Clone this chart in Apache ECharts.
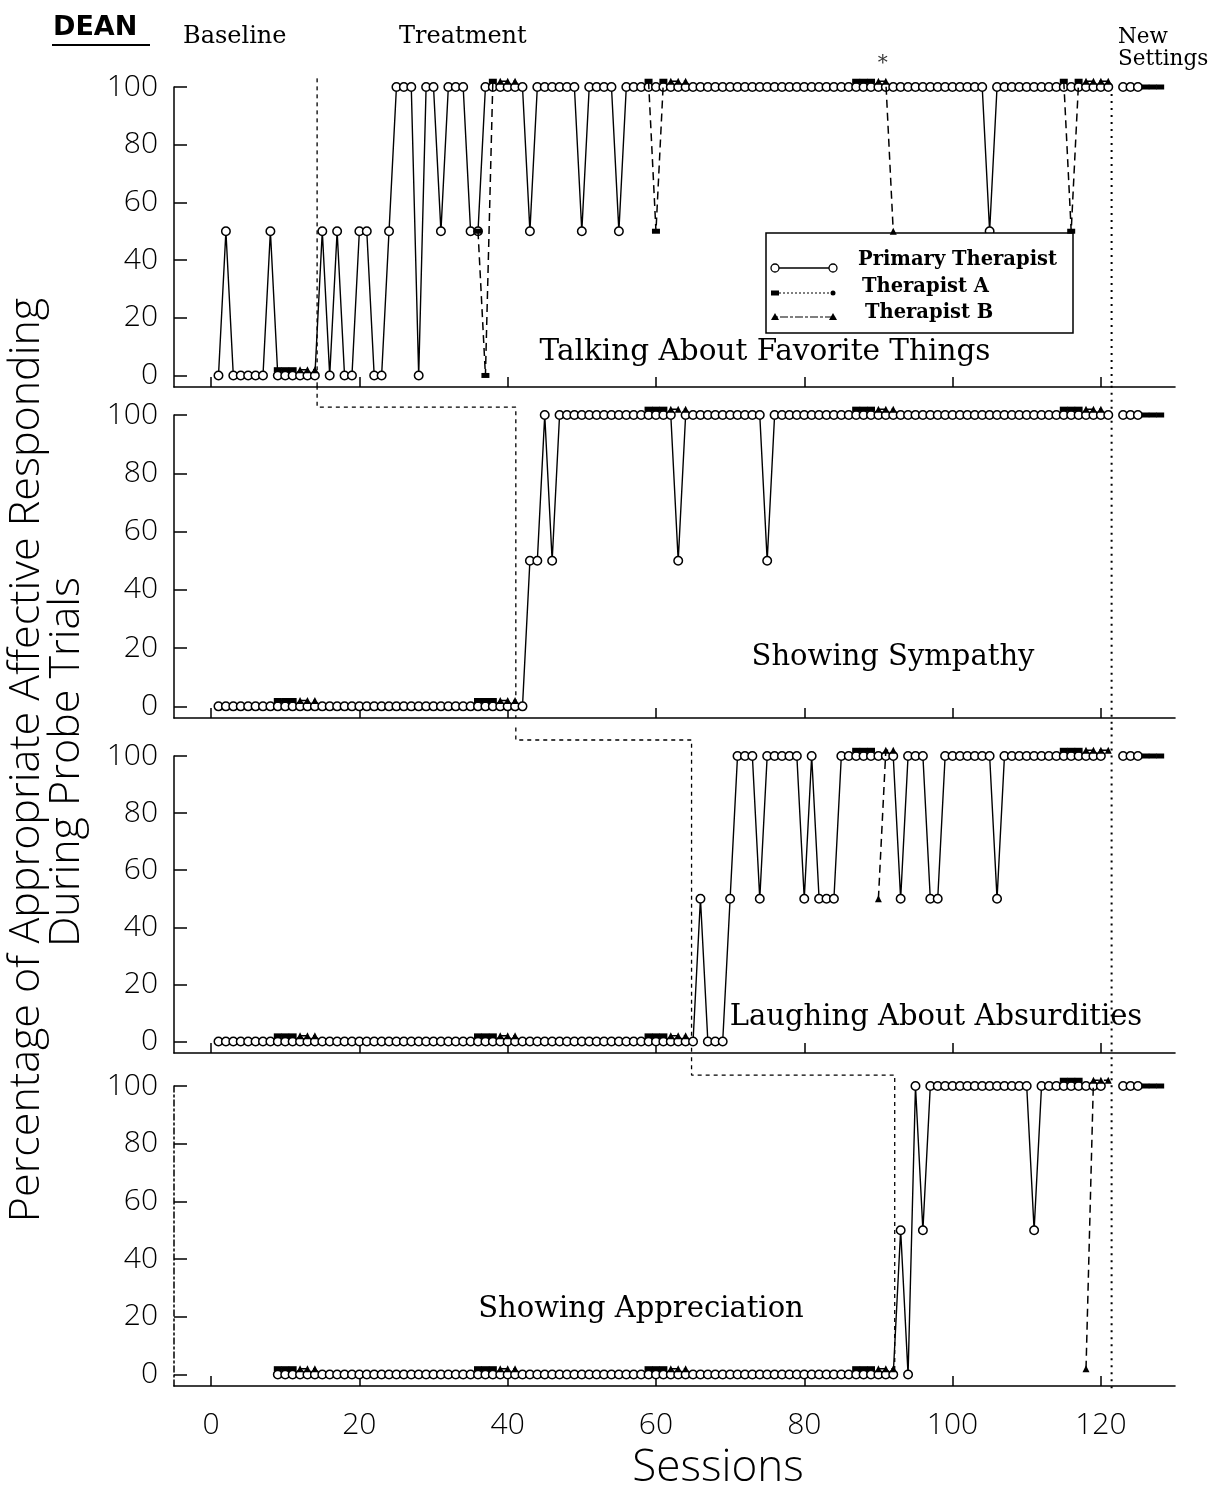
<!DOCTYPE html>
<html>
<head>
<meta charset="utf-8">
<script src="https://cdn.jsdelivr.net/npm/echarts@6/dist/echarts.min.js"></script>
<style>
html,body{margin:0;padding:0;background:#fff;}
#chart{width:1210px;height:1486px;}
</style>
</head>
<body>
<div id="chart"></div>
<script>
// ---------------- DATA ----------------
const SESSIONS = [
  1,2,3,4,5,6,7,8,9,10, 11,12,13,14,15,16,17,18,19,20,
  21,22,23,24,25,26,27,28,29,30, 31,32,33,34,35,36,37,38,39,40,
  41,42,43,44,45,46,47,48,49,50, 51,52,53,54,55,56,57,58,59,60,
  61,62,63,64,65,66,67,68,69,70, 71,72,73,74,75,76,77,78,79,80,
  81,82,83,84,85,86,87,88,89,90, 91,92,93,94,95,96,97,98,99,100,
  101,102,103,104,105,106,107,108,109,110, 111,112,113,114,115,116,117,118,119,120,
  121,122,123,124,125,126,127,128
];
const X_TICKS = [0, 20, 40, 60, 80, 100, 120];
const Y_TICKS = [0, 20, 40, 60, 80, 100];
const PANEL_TITLES = ['Talking About Favorite Things', 'Showing Sympathy', 'Laughing About Absurdities', 'Showing Appreciation'];

// Primary therapist, one value per session (null = no probe)
const P1_PRIMARY = [
  0,50,0,0,0,0,0,50,0,0,  0,0,0,0,50,0,50,0,0,50,
  50,0,0,50,100,100,100,0,100,100,  50,100,100,100,50,50,100,100,100,100,
  100,100,50,100,100,100,100,100,100,50,  100,100,100,100,50,100,100,100,100,100,
  100,100,100,100,100,100,100,100,100,100,  100,100,100,100,100,100,100,100,100,100,
  100,100,100,100,100,100,100,100,100,100,  100,100,100,100,100,100,100,100,100,100,
  100,100,100,100,50,100,100,100,100,100,  100,100,100,100,100,100,100,100,100,100,
  100,null,100,100,100,null,null,null
];
const P2_PRIMARY = [
  0,0,0,0,0,0,0,0,0,0,  0,0,0,0,0,0,0,0,0,0,
  0,0,0,0,0,0,0,0,0,0,  0,0,0,0,0,0,0,0,0,0,
  0,0,50,50,100,50,100,100,100,100,  100,100,100,100,100,100,100,100,100,100,
  100,100,50,100,100,100,100,100,100,100,  100,100,100,100,50,100,100,100,100,100,
  100,100,100,100,100,100,100,100,100,100,  100,100,100,100,100,100,100,100,100,100,
  100,100,100,100,100,100,100,100,100,100,  100,100,100,100,100,100,100,100,100,100,
  100,null,100,100,100,null,null,null
];
const P3_PRIMARY = [
  0,0,0,0,0,0,0,0,0,0,  0,0,0,0,0,0,0,0,0,0,
  0,0,0,0,0,0,0,0,0,0,  0,0,0,0,0,0,0,0,0,0,
  0,0,0,0,0,0,0,0,0,0,  0,0,0,0,0,0,0,0,0,0,
  0,0,0,0,0,50,0,0,0,50,  100,100,100,50,100,100,100,100,100,50,
  100,50,50,50,100,100,100,100,100,100,  100,100,50,100,100,100,50,50,100,100,
  100,100,100,100,100,50,100,100,100,100,  100,100,100,100,100,100,100,100,100,100,
  null,null,100,100,100,null,null,null
];
const P4_PRIMARY = [
  null,null,null,null,null,null,null,null,0,0,  0,0,0,0,0,0,0,0,0,0,
  0,0,0,0,0,0,0,0,0,0,  0,0,0,0,0,0,0,0,0,0,
  0,0,0,0,0,0,0,0,0,0,  0,0,0,0,0,0,0,0,0,0,
  0,0,0,0,0,0,0,0,0,0,  0,0,0,0,0,0,0,0,0,0,
  0,0,0,0,0,0,0,0,0,0,  0,0,50,0,100,50,100,100,100,100,
  100,100,100,100,100,100,100,100,100,100,  50,100,100,100,100,100,100,100,100,100,
  null,null,100,100,100,null,null,null
];

// Reliability probes: [session, value] runs (each run is drawn as its own path)
const P1_THER_A = [
  [[9,2],[10,2],[11,2]],
  [[36,50],[37,0],[38,102]],
  [[59,102],[60,50],[61,102]],
  [[87,102],[88,102],[89,102]],
  [[115,102],[116,50],[117,102]],
  [[126,100],[127,100],[128,100]]
];
const P1_THER_B = [
  [[12,2],[13,2],[14,2]],
  [[39,102],[40,102],[41,102]],
  [[62,102],[63,102],[64,102]],
  [[90,102],[91,102],[92,50]],
  [[118,102],[119,102],[120,102],[121,102]]
];
const P2_THER_A = [
  [[9,2],[10,2],[11,2]],
  [[36,2],[37,2],[38,2]],
  [[59,102],[60,102],[61,102]],
  [[87,102],[88,102],[89,102]],
  [[115,102],[116,102],[117,102]],
  [[126,100],[127,100],[128,100]]
];
const P2_THER_B = [
  [[12,2],[13,2],[14,2]],
  [[39,2],[40,2],[41,2]],
  [[62,102],[63,102],[64,102]],
  [[90,102],[91,102],[92,102]],
  [[118,102],[119,102],[120,102]]
];
const P3_THER_A = [
  [[9,2],[10,2],[11,2]],
  [[36,2],[37,2],[38,2]],
  [[59,2],[60,2],[61,2]],
  [[87,102],[88,102],[89,102]],
  [[115,102],[116,102],[117,102]],
  [[126,100],[127,100],[128,100]]
];
const P3_THER_B = [
  [[12,2],[13,2],[14,2]],
  [[39,2],[40,2],[41,2]],
  [[62,2],[63,2],[64,2]],
  [[90,50],[91,102],[92,102]],
  [[118,102],[119,102],[120,102],[121,102]]
];
const P4_THER_A = [
  [[9,2],[10,2],[11,2]],
  [[36,2],[37,2],[38,2]],
  [[59,2],[60,2],[61,2]],
  [[87,2],[88,2],[89,2]],
  [[115,102],[116,102],[117,102]],
  [[126,100],[127,100],[128,100]]
];
const P4_THER_B = [
  [[12,2],[13,2],[14,2]],
  [[39,2],[40,2],[41,2]],
  [[62,2],[63,2],[64,2]],
  [[90,2],[91,2],[92,2]],
  [[118,2],[119,102],[120,102],[121,102]]
];

// Phase-change (baseline -> treatment) lines, staircase across panels
const PHASE_LINES = [
  [[14.3,103],[14.3,-4]],
  [[14.3,110],[14.3,102.7],[41.1,102.7],[41.1,-4]],
  [[41.1,110],[41.1,105.6],[64.8,105.6],[64.8,-4]],
  [[64.8,110],[64.8,103.8],[92.2,103.8],[92.2,0]]
];
// "New Settings" line
const NEW_SETTINGS_LINES = [
  [[121.45,100],[121.45,-4]],
  [[121.45,110],[121.45,-8]],
  [[121.45,110],[121.45,-4]],
  [[121.45,110],[121.45,-5]]
];
const ASTERISK = [[90.6, 108]];

// ---------------- CHART ----------------
const PRIMARY = [P1_PRIMARY, P2_PRIMARY, P3_PRIMARY, P4_PRIMARY];
const THER_A = [P1_THER_A, P2_THER_A, P3_THER_A, P4_THER_A];
const THER_B = [P1_THER_B, P2_THER_B, P3_THER_B, P4_THER_B];

const GRIDS = [
  {left:174, right:35, top:87, height:300},
  {left:174, right:35, top:415, height:303},
  {left:174, right:35, top:756, height:297},
  {left:174, right:35, top:1086, height:300}
];
const NUM_FONT = '"Open Sans", "DejaVu Sans", sans-serif';
const SERIF = '"DejaVu Serif", "Liberation Serif", serif';

const xAxes = [], yAxes = [], series = [];
for (let i = 0; i < 4; i++) {
  xAxes.push({
    gridIndex:i, type:'value', min:-5, max:130,
    axisLine:{show:true, onZero:false, lineStyle:{color:'#000', width:1.6}},
    axisTick:{show:true, inside:true, length:10, customValues:X_TICKS, lineStyle:{color:'#000', width:1.5}},
    axisLabel:{show:i===3, customValues:X_TICKS, color:'#000', fontSize:30, fontWeight:300, fontFamily:NUM_FONT, margin:24},
    splitLine:{show:false}
  });
  yAxes.push({
    gridIndex:i, type:'value', min:-4, max:100,
    axisLine:{show:true, onZero:false, lineStyle:{color:'#000', width:1.5, type: i===3 ? [6,3,2,3] : 'solid'}},
    axisTick:{show:true, inside:true, length:13, customValues:Y_TICKS, lineStyle:{color:'#000', width:1.5}},
    axisLabel:{customValues:Y_TICKS, color:'#000', fontSize:30, fontWeight:300, fontFamily:NUM_FONT, margin:16},
    splitLine:{show:false}
  });

  series.push({
    type:'line', xAxisIndex:i, yAxisIndex:i, z:3,
    data: SESSIONS.map((s,k) => [s, PRIMARY[i][k] == null ? '-' : PRIMARY[i][k]]),
    symbol:'circle', symbolSize:8.5, showSymbol:true, showAllSymbol:true,
    itemStyle:{color:'#fff', borderColor:'#000', borderWidth:1.5},
    lineStyle:{color:'#000', width:1.4},
    connectNulls:false, animation:false, silent:true
  });
  THER_A[i].forEach(run => series.push({
    type:'line', xAxisIndex:i, yAxisIndex:i, z:6, clip:false,
    data: run, symbol:'rect', symbolSize:[8,5],
    itemStyle:{color:'#000'}, lineStyle:{color:'#000', width:1.5, type:[8,5]},
    animation:false, silent:true
  }));
  THER_B[i].forEach(run => series.push({
    type:'line', xAxisIndex:i, yAxisIndex:i, z:6, clip:false,
    data: run, symbol:'triangle', symbolSize:7,
    itemStyle:{color:'#000'}, lineStyle:{color:'#000', width:1.5, type:[8,5]},
    animation:false, silent:true
  }));
  series.push({
    type:'line', xAxisIndex:i, yAxisIndex:i, z:2, clip:false,
    data: PHASE_LINES[i], symbol:'none',
    lineStyle:{color:'#000', width:1.3, type:[4,4]}, animation:false, silent:true
  });
  series.push({
    type:'line', xAxisIndex:i, yAxisIndex:i, z:2, clip:false,
    data: NEW_SETTINGS_LINES[i], symbol:'none',
    lineStyle:{color:'#000', width:2, type:[2,5]}, animation:false, silent:true
  });
}
series.push({
  type:'scatter', xAxisIndex:0, yAxisIndex:0, clip:false, z:6,
  data: ASTERISK, symbolSize:0,
  label:{show:true, position:'inside', formatter:'*', color:'#000', fontSize:20, fontFamily:SERIF},
  animation:false, silent:true
});

function txt(x, y, text, font, align, extra) {
  return Object.assign({
    type:'text', x:x, y:y, silent:true,
    style:{text:text, font:font, fill:'#000',
      textAlign:align||'left', align:align||'left',
      textVerticalAlign:'middle', verticalAlign:'middle'}
  }, extra||{});
}
const graphic = [
  txt(53, 28, 'DEAN', 'bold 27px "DejaVu Sans", sans-serif'),
  {type:'line', shape:{x1:52, y1:45, x2:150, y2:45}, style:{stroke:'#000', lineWidth:2}, silent:true},
  txt(183, 37, 'Baseline', '24px ' + SERIF),
  txt(399, 37, 'Treatment', '24px ' + SERIF),
  txt(1118, 37, 'New', '21.5px ' + SERIF),
  txt(1118, 59, 'Settings', '21.5px ' + SERIF),
  txt(765, 352, PANEL_TITLES[0], '29.5px ' + SERIF, 'center'),
  txt(893, 657, PANEL_TITLES[1], '29px ' + SERIF, 'center'),
  txt(936, 1017, PANEL_TITLES[2], '29px ' + SERIF, 'center'),
  txt(641, 1309, PANEL_TITLES[3], '29px ' + SERIF, 'center'),
  txt(27, 760, 'Percentage of Appropriate Affective Responding', '300 43px ' + NUM_FONT, 'center', {rotation:Math.PI/2}),
  txt(67, 762, 'During Probe Trials', '300 43px ' + NUM_FONT, 'center', {rotation:Math.PI/2}),
  txt(718, 1468, 'Sessions', '300 44px ' + NUM_FONT, 'center'),
  // legend box
  {type:'rect', shape:{x:766, y:233, width:307, height:100}, style:{fill:'#fff', stroke:'#000', lineWidth:1.5}, z:4, silent:true},
  {type:'line', shape:{x1:775, y1:268, x2:833, y2:268}, style:{stroke:'#000', lineWidth:1.3}, z:5, silent:true},
  {type:'circle', shape:{cx:775, cy:268, r:4}, style:{fill:'#fff', stroke:'#000', lineWidth:1.3}, z:5, silent:true},
  {type:'circle', shape:{cx:833, cy:268, r:4}, style:{fill:'#fff', stroke:'#000', lineWidth:1.3}, z:5, silent:true},
  {type:'line', shape:{x1:775, y1:293, x2:833, y2:293}, style:{stroke:'#000', lineWidth:1.2, lineDash:[2,2]}, z:5, silent:true},
  {type:'rect', shape:{x:771, y:290.5, width:8, height:5}, style:{fill:'#000'}, z:5, silent:true},
  {type:'circle', shape:{cx:833, cy:293, r:2.5}, style:{fill:'#000'}, z:5, silent:true},
  {type:'line', shape:{x1:775, y1:317, x2:833, y2:317}, style:{stroke:'#000', lineWidth:1.2, lineDash:[3,2,8,2]}, z:5, silent:true},
  {type:'polygon', shape:{points:[[775,313],[779,320],[771,320]]}, style:{fill:'#000'}, z:5, silent:true},
  {type:'polygon', shape:{points:[[833,313],[837,320],[829,320]]}, style:{fill:'#000'}, z:5, silent:true},
  Object.assign(txt(858, 260, 'Primary Therapist', 'bold 19.5px ' + SERIF), {z:5}),
  Object.assign(txt(862, 287, 'Therapist A', 'bold 19.5px ' + SERIF), {z:5}),
  Object.assign(txt(865, 313, 'Therapist B', 'bold 19.5px ' + SERIF), {z:5})
];

const chart = echarts.init(document.getElementById('chart'), null, {renderer:'canvas'});
chart.setOption({
  animation:false,
  backgroundColor:'#fff',
  grid: GRIDS,
  xAxis: xAxes,
  yAxis: yAxes,
  series: series,
  graphic: graphic
});
</script>
</body>
</html>
